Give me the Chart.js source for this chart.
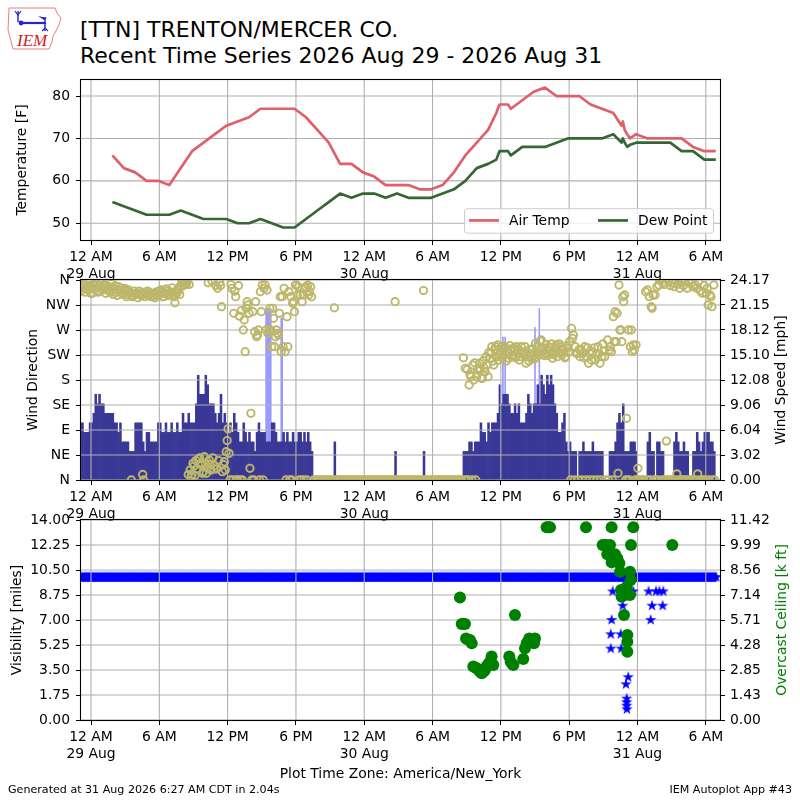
<!DOCTYPE html>
<html>
<head>
<meta charset="utf-8">
<title>[TTN] TRENTON/MERCER CO. Recent Time Series</title>
<script src="https://cdn.jsdelivr.net/npm/chart.js@4.4.1/dist/chart.umd.min.js"></script>
<style>
  html, body { margin: 0; padding: 0; background: #fff; }
  body { width: 800px; height: 800px; position: relative; overflow: hidden;
         font-family: "DejaVu Sans", sans-serif; color: #000; }
  canvas.panel { position: absolute; left: 0; }
  .txt { position: absolute; white-space: nowrap; line-height: 1; }
  .title { font-size: 22px; left: 80px; }
  .foot { font-size: 11.1px; top: 783.6px; }
</style>
</head>
<body>

<svg style="position:absolute;left:0;top:0" width="80" height="56" viewBox="0 0 80 56">
  <path d="M9,8 L55,8 L57,13 L61,18 L59,25 L56,31 L53,36 L52,42 L49,49 L13,49 L11,41 L8,30 Z"
        fill="none" stroke="#e38080" stroke-width="1"/>
  <line x1="18" y1="11" x2="18" y2="22" stroke="#2525cc" stroke-width="1.4"/>
  <path d="M15,11 L18,15 L21,11" fill="none" stroke="#2525cc" stroke-width="1.2"/>
  <line x1="20" y1="23" x2="46" y2="23" stroke="#2525cc" stroke-width="2.2"/>
  <circle cx="21" cy="23" r="2.4" fill="#2525cc"/>
  <path d="M38,16 L47,18 L44,20 Z" fill="#2525cc"/>
  <line x1="45" y1="17" x2="45" y2="31" stroke="#2525cc" stroke-width="1.4"/>
  <path d="M42,31 L45,28 L48,31" fill="none" stroke="#2525cc" stroke-width="1.2"/>
  <text x="17" y="46" font-family="Liberation Serif, DejaVu Serif, serif" font-style="italic"
        font-size="17" fill="#d42020">IEM</text>
</svg>

<div class="txt title" style="top:19.4px">[TTN] TRENTON/MERCER CO.</div>
<div class="txt title" style="top:45.4px">Recent Time Series 2026 Aug 29 - 2026 Aug 31</div>

<canvas class="panel" id="cTemp" width="800" height="225" style="top:60px"></canvas>
<canvas class="panel" id="cWind" width="800" height="265" style="top:260px"></canvas>
<canvas class="panel" id="cVis" width="800" height="265" style="top:500px"></canvas>

<div class="txt" style="font-size:13.9px;top:767.3px;left:0;width:801px;text-align:center">Plot Time Zone: America/New_York</div>
<div class="txt foot" style="left:8px">Generated at 31 Aug 2026 6:27 AM CDT in 2.04s</div>
<div class="txt foot" style="right:8px">IEM Autoplot App #43</div>

<script>
const _ = null;

// hours since 29 Aug 00:00 America/New_York
const xTicks = [0, 6, 12, 18, 24, 30, 36, 42, 48, 54];
const xTickLabels = [['12 AM', '29 Aug'], '6 AM', '12 PM', '6 PM', ['12 AM', '30 Aug'],
                     '6 AM', '12 PM', '6 PM', ['12 AM', '31 Aug'], '6 AM'];

// hourly METARs plus specials
const obsHours = [1.88, 2.88, 3.88, 4.88, 5.88, 6.88, 7.88, 8.88, 9.88, 10.88,
                  11.88, 12.88, 13.88, 14.88, 15.88, 16.88, 17.88, 18.88, 19.88, 20.88,
                  21.88, 22.88, 23.88, 24.88, 25.88, 26.88, 27.88, 28.88, 29.88, 30.88,
                  31.88, 32.88, 33.88, 34.88, 35.6, 35.88, 36.63, 36.88, 37.88, 38.88,
                  39.88, 40.88, 41.88, 42.88, 43.88, 44.88, 45.88, 46.6, 46.72, 46.88,
                  47.1, 47.35, 47.88, 48.88, 49.88, 50.88, 51.88, 52.88, 53.88, 54.88];
const tempF = [66, 63, 62, 60, 60, 59, 63, 67, 69, 71,
               73, 74, 75, 77, 77, 77, 77, 75, 72, 69,
               64, 64, 62, 61, 59, 59, 59, 58, 58, 59,
               62, 66, 69, 72, 76, 78, 78, 77, 79, 81,
               82, 80, 80, 80, 78, 77, 76, 73, 74, 72,
               71, 70, 71, 70, 70, 70, 70, 68, 67, 67];
const dewF = [55, 54, 53, 52, 52, 52, 53, 52, 51, 51,
              51, 50, 50, 51, 50, 49, 49, 51, 53, 55,
              57, 56, 57, 57, 56, 57, 56, 56, 56, 57,
              58, 60, 63, 64, 65, 67, 67, 66, 68, 68,
              68, 69, 70, 70, 70, 70, 71, 69, 70, 69,
              68, 68.5, 69, 69, 69, 69, 67, 67, 65, 65];

// 10 minute bins, first bin starts 28 Aug 11 PM (hour -1), one row per hour
const BIN0 = -1;
const windKt = [
  6,6,5,5,5,6,   6,7,9,8,9,8,   8,7,7,7,7,7,   6,6,5,6,4,4,   4,4,3,3,3,6,
  6,6,6,4,3,5,   5,4,4,4,4,6,   6,5,5,6,5,5,   6,5,5,6,5,5,   7,6,6,7,6,6,
  6,8,11,9,9,9,  11,10,8,8,8,7, 6,7,9,6,7,6,   5,6,5,7,6,5,   4,4,6,5,4,5,
  4,4,3,5,6,5,   5,5,4,4,4,6,   6,5,4,4,4,5,   4,5,4,4,5,4,   4,5,5,4,5,4,
  5,4,3,0,0,0,   0,0,0,0,0,0,   0,0,4,0,0,0,   0,0,0,0,0,0,   0,0,0,0,0,0,
  0,0,0,0,0,0,   0,0,0,0,0,0,   0,0,0,0,3,0,   0,0,0,0,0,0,   0,0,0,0,0,0,
  0,3,0,0,0,0,   0,0,0,0,0,0,   0,0,0,0,0,0,   0,0,0,0,3,3,   3,4,4,3,4,4,
  4,6,5,5,4,6,   5,6,6,6,7,10,  8,9,9,9,8,7,   7,8,7,8,6,6,   6,7,9,8,7,8,
  8,10,8,11,10,9, 11,10,11,10,8,7, 5,5,6,7,4,3, 4,3,3,3,0,3,  3,4,3,3,3,3,
  4,3,3,3,3,3,   0,0,0,3,3,3,   4,6,7,6,8,3,   3,3,4,4,4,3,   0,0,0,0,0,4,
  5,3,3,0,4,4,   3,3,0,0,0,0,   0,4,5,4,3,3,   4,3,3,0,0,3,   3,5,4,3,4,5,
  5,5,4,4,3,_
];
// gusts: long ones in the afternoon of 29 Aug, brief ones on 30 Aug
const gustHours = [15.42, 15.58, 15.75, 16.75];
const gustKt = [18, 18, 18, 17];
const briefGustHours = [36.18, 36.38, 39.0, 39.38];
const briefGustKt = [15, 15, 16, 18];

// wind direction [deg], two samples per 10 minute bin
const dirA = [
  350,346,352,344,348,350, 348,352,345,350,340,347, 345,350,342,348,338,346,
  344,338,348,340,336,342, 340,334,338,0,332,336,   336,340,332,10,330,334,
  332,336,330,334,338,332, 334,338,330,336,340,334, 338,334,319,336,342,350,
  355,358,352,10,18,10,    25,35,20,40,30,15,       30,22,36,18,40,26,
  20,35,350,15,33,51,      92,0,345,300,330,0,      295,305,270,231,321,300,
  120,303,267,258,270,339, 351,345,270,264,309,240, 291,258,264,300,231,240,
  231,294,339,330,318,303, 351,348,333,321,0,348,   351,339,330,0,0,0,
  0,0,0,0,0,0,             0,0,310,0,0,0,           0,0,0,0,0,0,
  0,0,0,0,0,0,             0,0,0,0,0,0,             0,0,0,0,0,0,
  0,0,0,0,321,0,           0,0,0,0,0,0,             0,0,0,0,0,0,
  0,341,0,0,0,0,           0,0,0,0,0,0,             0,0,0,0,0,0,
  0,0,0,0,220,201,         199,171,186,207,211,186, 201,198,183,201,222,186,
  219,240,207,240,243,225, 240,225,240,230,219,235, 225,235,240,234,222,230,
  230,210,222,235,219,225, 246,230,225,252,238,228, 234,240,228,219,230,243,
  230,240,225,235,222,238, 249,273,261,240,228,235, 235,228,240,222,210,232,
  230,238,225,240,210,222, 232,0,252,234,231,294,   303,300,351,270,330,333,
  111,270,240,231,234,243, 21,0,0,0,339,342,        330,312,333,333,348,351,
  360,355,352,70,358,350,  355,348,360,352,345,358, 350,358,345,355,360,348,
  352,345,358,340,336,350, 336,315,333,312,351,_
];
const dirB = [
  340,354,338,350,342,336, 336,344,354,338,350,342, 352,336,348,340,354,334,
  350,332,340,346,334,345, 330,342,336,330,340,334, 328,334,338,0,336,340,
  338,330,336,328,334,340, 342,330,336,344,332,338, 346,330,338,344,334,356,
  350,354,358,352,6,30,    8,20,38,28,12,42,        12,355,28,358,20,350,
  345,356,312,28,18,71,    48,352,0,340,0,350,      0,0,288,309,315,21,
  0,0,321,261,0,303,       0,351,342,270,270,309,   240,270,261,330,330,345,
  0,240,0,0,321,351,       333,0,0,333,345,0,       333,348,_,_,_,_,
  _,_,_,_,_,_,             _,_,0,_,_,_,             _,_,_,_,_,_,
  _,_,_,_,_,_,             _,_,_,_,_,_,             _,_,_,_,_,_,
  _,_,_,_,0,_,             _,_,_,_,_,_,             _,_,_,_,_,_,
  _,0,_,_,_,_,             _,_,_,_,_,_,             _,_,_,_,_,_,
  _,_,_,_,0,0,             0,190,0,180,0,198,       210,183,215,195,207,230,
  228,214,235,222,216,232, 220,236,214,228,242,222, 238,220,228,216,240,226,
  240,226,214,228,236,218, 222,240,250,235,224,244, 224,232,245,226,238,222,
  245,228,236,220,242,230, 0,255,0,228,0,222,       0,220,0,238,0,216,
  0,216,0,228,0,245,       222,_,0,240,0,249,       249,12,270,249,321,0,
  0,0,270,243,0,0,         0,_,_,_,0,0,             0,309,0,0,0,360,
  0,0,0,0,0,0,             0,0,11,0,0,0,            0,0,0,0,0,0,
  0,11,0,0,0,0,            345,0,330,0,0,_
];

// visibility [miles] per 10 minute bin
const visMiles = [
  10,10,10,10,10,10, 10,10,10,10,10,10, 10,10,10,10,10,10, 10,10,10,10,10,10,
  10,10,10,10,10,10, 10,10,10,10,10,10, 10,10,10,10,10,10, 10,10,10,10,10,10,
  10,10,10,10,10,10, 10,10,10,10,10,10, 10,10,10,10,10,10, 10,10,10,10,10,10,
  10,10,10,10,10,10, 10,10,10,10,10,10, 10,10,10,10,10,10, 10,10,10,10,10,10,
  10,10,10,10,10,10, 10,10,10,10,10,10, 10,10,10,10,10,10, 10,10,10,10,10,10,
  10,10,10,10,10,10, 10,10,10,10,10,10, 10,10,10,10,10,10, 10,10,10,10,10,10,
  10,10,10,10,10,10, 10,10,10,10,10,10, 10,10,10,10,10,10, 10,10,10,10,10,10,
  10,10,10,10,10,10, 10,10,10,10,10,10, 10,10,10,10,10,10, 10,10,10,10,10,10,
  10,10,10,10,10,10, 10,10,10,10,10,10, 10,10,10,10,10,10, 10,10,10,10,10,10,
  10,10,10,10,10,10, 10,10,10,10,10,10, 10,10,10,10,10,10, 10,10,10,10,10,10,
  10,10,10,10,10,10, 10,10,10,10,10,10, 10,10,10,10,10,10, 10,10,10,10,10,10,
  10,10,10,10,10,10, 10,10,10,10,10,10, 10,10,10,10,10,10, 10,10,10,10,10,10,
  10,10,10,10,10,10, 10,10,10,10,10,10, 10,10,10,10,10,10, 10,10,10,10,10,10,
  10,10,10,10,10,10, 10,10,10,10,10,10, 10,10,10,10,10,10, 10,10,10,10,10,10
];
const visLowHours = [45.65, 45.65, 45.73, 45.82, 46.53, 46.58, 46.7, 46.99,
                     47.05, 47.05, 47.05, 47.07, 47.19, 47.63, 48.98, 49.16,
                     49.28, 49.63, 49.92, 50.21, 50.27];
const visLowMiles = [6, 5, 7, 9, 6, 5, 8, 2.5,
                     1.5, 1.25, 1.0, 0.75, 3.0, 9, 9, 7,
                     8, 9, 9, 8, 9];

// overcast ceiling [k ft]
const ceilHours = [32.41, 32.56, 32.7, 32.85, 32.94, 33.1, 33.29, 33.44, 33.58, 33.75,
                   33.88, 34.05, 34.17, 34.32, 34.47, 34.61, 34.75, 34.9, 35.05, 35.19,
                   35.34, 36.74, 36.86, 37.0, 37.1, 37.24, 37.97, 38.12, 38.27, 38.4,
                   38.5, 38.7, 38.91, 39.0, 40.02, 40.17, 40.32, 43.48, 44.94, 45.1,
                   45.23, 45.35, 45.59, 45.73, 45.73, 46.03, 46.23, 46.41, 46.47, 46.55,
                   46.61, 46.82, 46.9, 47.05, 47.11, 47.11, 47.11, 47.34, 47.34, 47.4,
                   47.43, 47.63, 51.06];
const ceilKft = [7.0, 5.48, 5.5, 5.48, 4.66, 4.6, 4.57, 4.38, 3.05, 3.0,
                 2.95, 2.85, 2.76, 2.67, 2.75, 2.86, 3.05, 3.2, 3.33, 3.62,
                 3.14, 3.62, 3.33, 3.2, 3.14, 6.0, 3.48, 4.09, 4.38, 4.5,
                 4.66, 4.57, 4.38, 4.66, 11.0, 11.0, 11.0, 11.0, 9.99, 9.99,
                 9.99, 9.46, 9.99, 11.0, 9.0, 9.46, 9.23, 8.95, 8.47, 7.42,
                 7.04, 6.0, 7.14, 7.61, 4.85, 4.47, 3.9, 8.47, 7.14, 8.0,
                 9.99, 11.0, 9.99];

const tempTicks = [50, 60, 70, 80];
const dirTicks = [0, 45, 90, 135, 180, 225, 270, 315, 360];
const dirTickLabels = ['N', 'NE', 'E', 'SE', 'S', 'SW', 'W', 'NW', 'N'];
const spdTickLabels = ['0.00', '3.02', '6.04', '9.06', '12.08', '15.10', '18.12', '21.15', '24.17'];
const visTickLabels = ['0.00', '1.75', '3.50', '5.25', '7.00', '8.75', '10.50', '12.25', '14.00'];
const ceilTickLabels = ['0.00', '1.43', '2.85', '4.28', '5.71', '7.14', '8.56', '9.99', '11.42'];

const KT_TO_MPH = 1.15078;
const X_MIN = -0.88, X_MAX = 55.25;
const FONT = { family: 'DejaVu Sans', size: 13.9 };
const TEMP_COLOR = '#e0606a', DEW_COLOR = '#346734';
const SPD_COLOR = '#3a3896', GUST_COLOR = '#9999ff', DIR_COLOR = '#bdb76b';
const VIS_COLOR = '#0000ff', CEIL_COLOR = '#008000', GRID_COLOR = '#b0b0b0';

Chart.defaults.font.family = 'DejaVu Sans';

function binHour(i) { return BIN0 + (i + 0.5) / 6; }

function binSeries(values, shift, scale) {
  const pts = [];
  values.forEach((v, i) => {
    if (v !== null) pts.push({ x: binHour(i) + shift, y: v * scale });
  });
  return pts;
}

function pairs(xs, ys, scale) {
  return xs.map((x, i) => ({ x: x, y: ys[i] * (scale || 1) }));
}

function makeStar(size, color) {
  const c = document.createElement('canvas');
  c.width = c.height = size;
  const g = c.getContext('2d');
  const R = size / 2;
  g.fillStyle = color;
  g.beginPath();
  for (let i = 0; i < 10; i++) {
    const r = i % 2 ? R * 0.382 : R;
    const ang = -Math.PI / 2 + i * Math.PI / 5;
    g.lineTo(R + r * Math.cos(ang), R + r * Math.sin(ang));
  }
  g.closePath();
  g.fill();
  return c;
}

function xScale() {
  return {
    type: 'linear', min: X_MIN, max: X_MAX, offset: false,
    afterBuildTicks: s => { s.ticks = xTicks.map(v => ({ value: v })); },
    afterFit: s => { s.height = 45; },
    ticks: {
      autoSkip: false, maxRotation: 0, color: '#000', font: FONT, padding: 4,
      callback: v => xTickLabels[xTicks.indexOf(v)]
    },
    grid: { drawOnChartArea: false, offset: false, tickLength: 5, tickColor: '#000' },
    border: { display: false }
  };
}

function yScale(pos, min, max, ticks, labels, width) {
  return {
    type: 'linear', position: pos, min: min, max: max,
    afterBuildTicks: s => { s.ticks = ticks.map(v => ({ value: v })); },
    afterFit: s => { s.width = width; },
    ticks: { color: '#000', font: FONT, padding: pos === 'left' ? 6 : 5,
             callback: (v, i) => labels[i] },
    grid: { drawOnChartArea: false, tickLength: 5, tickColor: '#000' },
    border: { display: false }
  };
}

function drawGrid(chart) {
  const { ctx, chartArea: a, scales } = chart;
  ctx.save();
  ctx.beginPath();
  ctx.rect(a.left, a.top, a.width, a.height);
  ctx.clip();
  ctx.strokeStyle = GRID_COLOR;
  ctx.lineWidth = 1.1;
  ctx.beginPath();
  scales.x.ticks.forEach(t => {
    const px = scales.x.getPixelForValue(t.value);
    ctx.moveTo(px, a.top);
    ctx.lineTo(px, a.bottom);
  });
  scales.y.ticks.forEach(t => {
    const py = scales.y.getPixelForValue(t.value);
    ctx.moveTo(a.left, py);
    ctx.lineTo(a.right, py);
  });
  ctx.stroke();
  ctx.restore();
}

function drawLegend(chart) {
  const { ctx, chartArea: a } = chart;
  const w = 249, h = 24.5;
  const x0 = a.right - 7 - w, y0 = a.bottom - 7.3 - h;
  const yc = y0 + h / 2;
  ctx.save();
  ctx.beginPath();
  ctx.roundRect(x0 + 0.5, y0 + 0.5, w, h, 3);
  ctx.fillStyle = 'rgba(255,255,255,0.8)';
  ctx.fill();
  ctx.strokeStyle = '#cccccc';
  ctx.lineWidth = 1;
  ctx.stroke();
  chart.data.datasets.forEach((ds, i) => {
    const lx = x0 + 5 + i * 129;
    ctx.beginPath();
    ctx.moveTo(lx, yc);
    ctx.lineTo(lx + 30, yc);
    ctx.strokeStyle = ds.borderColor;
    ctx.lineWidth = 2.7;
    ctx.stroke();
    ctx.fillStyle = '#000';
    ctx.font = '13.9px "DejaVu Sans"';
    ctx.textBaseline = 'middle';
    ctx.textAlign = 'left';
    ctx.fillText(ds.label, lx + 40, yc + 0.5);
  });
  ctx.restore();
}

const framePlugin = {
  id: 'frame',
  defaults: { gridAfter: -1, legend: false, titles: [] },
  beforeDatasetsDraw(chart, args, o) { if (o.gridAfter < 0) drawGrid(chart); },
  afterDatasetDraw(chart, args, o) { if (o.gridAfter === args.index) drawGrid(chart); },
  afterDraw(chart, args, o) {
    const { ctx, chartArea: a } = chart;
    ctx.save();
    ctx.strokeStyle = '#000';
    ctx.lineWidth = 1.1;
    ctx.strokeRect(a.left - 0.5, a.top - 0.5, a.width + 1, a.height + 1);
    ctx.restore();
    if (o.legend) drawLegend(chart);
    o.titles.forEach(t => {
      ctx.save();
      ctx.translate(t.x, (a.top + a.bottom) / 2);
      ctx.rotate(-Math.PI / 2);
      ctx.font = '13.9px "DejaVu Sans"';
      ctx.fillStyle = t.color;
      ctx.textAlign = 'center';
      ctx.textBaseline = 'middle';
      ctx.fillText(t.text, 0, 0);
      ctx.restore();
    });
  }
};

const common = {
  responsive: false, animation: false, events: []
};

// temperature / dew point
new Chart(document.getElementById('cTemp'), {
  type: 'line',
  data: {
    datasets: [
      { label: 'Air Temp', data: pairs(obsHours, tempF), borderColor: TEMP_COLOR,
        borderWidth: 2.7, pointRadius: 0, tension: 0, borderJoinStyle: 'round', clip: 0 },
      { label: 'Dew Point', data: pairs(obsHours, dewF), borderColor: DEW_COLOR,
        borderWidth: 2.7, pointRadius: 0, tension: 0, borderJoinStyle: 'round', clip: 0 }
    ]
  },
  options: Object.assign({}, common, {
    layout: { padding: { left: 0, right: 80, top: 20, bottom: 0 } },
    scales: {
      x: xScale(),
      y: yScale('left', 46.05, 83.78, tempTicks, tempTicks.map(String), 81)
    },
    plugins: {
      legend: { display: false }, tooltip: { enabled: false },
      frame: { legend: true, titles: [{ text: 'Temperature [F]', x: 22, color: '#000' }] }
    }
  }),
  plugins: [framePlugin]
});

// wind direction / speed
new Chart(document.getElementById('cWind'), {
  type: 'bar',
  data: {
    datasets: [
      { type: 'line', label: 'dir', data: binSeries(dirA, -1 / 24, 1), showLine: false,
        pointRadius: 3.7, pointBorderWidth: 1.9, pointBorderColor: DIR_COLOR,
        pointBackgroundColor: 'rgba(0,0,0,0)', yAxisID: 'y', order: 0, clip: 0 },
      { type: 'line', label: 'dir2', data: binSeries(dirB, 1 / 24, 1), showLine: false,
        pointRadius: 3.7, pointBorderWidth: 1.9, pointBorderColor: DIR_COLOR,
        pointBackgroundColor: 'rgba(0,0,0,0)', yAxisID: 'y', order: 0, clip: 0 },
      { type: 'bar', label: 'speed', data: binSeries(windKt, 0, KT_TO_MPH),
        backgroundColor: SPD_COLOR, borderWidth: 0, barThickness: 1.9, grouped: false,
        yAxisID: 'ySpd', order: 1, clip: 0 },
      { type: 'bar', label: 'gust', data: pairs(gustHours, gustKt, KT_TO_MPH),
        backgroundColor: GUST_COLOR, borderWidth: 0, barThickness: 1.9, grouped: false,
        yAxisID: 'ySpd', order: 2, clip: 0 },
      { type: 'bar', label: 'brief gust', data: pairs(briefGustHours, briefGustKt, KT_TO_MPH),
        backgroundColor: GUST_COLOR, borderWidth: 0, barThickness: 1, grouped: false,
        yAxisID: 'ySpd', order: 2, clip: 0 }
    ]
  },
  options: Object.assign({}, common, {
    layout: { padding: { left: 0, right: 0, top: 20, bottom: 0 } },
    scales: {
      x: xScale(),
      y: yScale('left', 0, 360, dirTicks, dirTickLabels, 81),
      ySpd: yScale('right', 0, 21 * KT_TO_MPH,
                   spdTickLabels.map((s, i) => i * 21 * KT_TO_MPH / 8), spdTickLabels, 80)
    },
    plugins: {
      legend: { display: false }, tooltip: { enabled: false },
      frame: { gridAfter: 2, titles: [
        { text: 'Wind Direction', x: 33, color: '#000' },
        { text: 'Wind Speed [mph]', x: 781, color: '#000' }
      ] }
    }
  }),
  plugins: [framePlugin]
});

// visibility / ceiling
const star = makeStar(12, VIS_COLOR);
new Chart(document.getElementById('cVis'), {
  type: 'line',
  data: {
    datasets: [
      { label: 'ceiling', data: pairs(ceilHours, ceilKft), showLine: false,
        pointRadius: 6, pointBorderWidth: 0, pointBackgroundColor: CEIL_COLOR,
        yAxisID: 'yCeil', order: 0, clip: 0 },
      { label: 'vis low', data: pairs(visLowHours, visLowMiles), showLine: false,
        pointStyle: star, pointRadius: 5, yAxisID: 'y', order: 1, clip: 0 },
      { label: 'vis', data: binSeries(visMiles, 0, 1), showLine: true,
        borderColor: VIS_COLOR, borderWidth: 9, tension: 0,
        pointStyle: star, pointRadius: 5, yAxisID: 'y', order: 2, clip: 0 }
    ]
  },
  options: Object.assign({}, common, {
    layout: { padding: { left: 0, right: 0, top: 20, bottom: 0 } },
    scales: {
      x: xScale(),
      y: yScale('left', 0, 14, visTickLabels.map((s, i) => i * 1.75), visTickLabels, 81),
      yCeil: yScale('right', 0, 11.42, ceilTickLabels.map((s, i) => i * 11.42 / 8), ceilTickLabels, 80)
    },
    plugins: {
      legend: { display: false }, tooltip: { enabled: false },
      frame: { gridAfter: 2, titles: [
        { text: 'Visibility [miles]', x: 17.5, color: '#000' },
        { text: 'Overcast Ceiling [k ft]', x: 782, color: CEIL_COLOR }
      ] }
    }
  }),
  plugins: [framePlugin]
});
</script>
</body>
</html>
